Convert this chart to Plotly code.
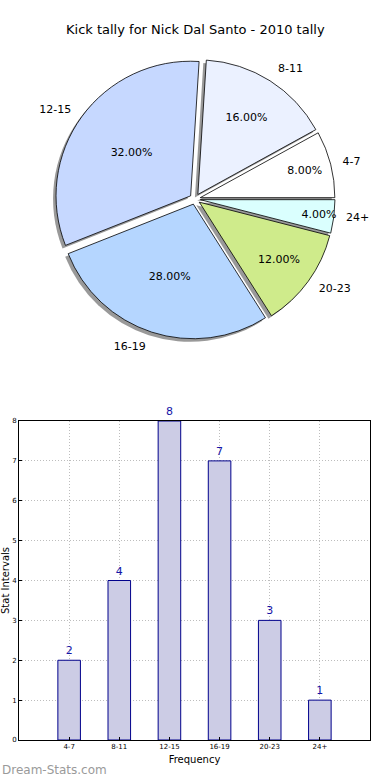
import plotly.graph_objects as go

categories = ["4-7", "8-11", "12-15", "16-19", "20-23", "24+"]
counts = [2, 4, 8, 7, 3, 1]
pie_colors = ["#FFFFFF", "#EBF1FF", "#C6D8FF", "#B5D6FF", "#CFEB8B", "#DAFFFE"]
title_text = "Kick tally for Nick Dal Santo - 2010 tally"
y_ticks = [0, 1, 2, 3, 4, 5, 6, 7, 8]

W, H = 390, 780
FONT = "DejaVu Sans"

def px_x(p):
    return p / W

def px_y(p):
    return 1 - p / H

cx, cy, half = 195, 199, 140
sh = 3
lab_extra = 9
pulls = [0.04] * 6
rot = 61.2

def dom(dx, dy, h):
    return dict(x=[px_x(cx - h + dx), px_x(cx + h + dx)],
                y=[px_y(cy + h + dy), px_y(cy - h + dy)])

fig = go.Figure()

# invisible pie carrying the outside labels (slightly larger radius)
fig.add_trace(go.Pie(
    labels=categories, values=counts, sort=False, direction="counterclockwise",
    rotation=rot, pull=pulls,
    marker=dict(colors=["rgba(0,0,0,0)"] * 6, line=dict(width=0)),
    texttemplate="%{label}", textposition="outside",
    textfont=dict(family=FONT, size=11, color="#000000"),
    domain=dom(0, 0, half + lab_extra),
    showlegend=False, hoverinfo="skip", automargin=False,
))

# shadow pie
fig.add_trace(go.Pie(
    labels=categories, values=counts, sort=False, direction="counterclockwise",
    rotation=rot, pull=pulls,
    marker=dict(colors=["rgba(0,0,0,0.4)"] * 6, line=dict(width=0)),
    textinfo="none",
    domain=dom(-sh, sh, half),
    showlegend=False, hoverinfo="skip", automargin=False,
))

# main pie
fig.add_trace(go.Pie(
    labels=categories, values=counts, sort=False, direction="counterclockwise",
    rotation=rot, pull=pulls,
    marker=dict(colors=pie_colors, line=dict(color="#000000", width=0.8)),
    texttemplate="%{percent:.2%}", textposition="inside",
    insidetextorientation="horizontal",
    textfont=dict(family=FONT, size=11, color="#000000"),
    domain=dom(0, 0, half),
    showlegend=False, automargin=False,
))

fig.add_trace(go.Bar(
    x=categories, y=counts, width=0.45,
    marker=dict(color="#CCCCE5", line=dict(color="#00008B", width=1)),
    text=[str(c) for c in counts], textposition="outside",
    textfont=dict(family=FONT, size=11, color="#1414A8"),
    cliponaxis=False, xaxis="x", yaxis="y", showlegend=False,
))

fig.update_layout(
    width=W, height=H,
    margin=dict(l=0, r=0, t=0, b=0),
    paper_bgcolor="white", plot_bgcolor="white",
    font=dict(family=FONT, color="#000000"),
    uniformtext=dict(minsize=11, mode="show"),
    xaxis=dict(
        domain=[px_x(19), px_x(370)], range=[-1, 6], anchor="y",
        showline=True, linecolor="#000000", linewidth=1, mirror=True,
        showgrid=True, gridcolor="#BDBDBD", griddash="1px,2px", gridwidth=1,
        ticks="inside", ticklen=3, tickcolor="#000000",
        tickfont=dict(size=7, family=FONT),
        title=dict(text="Frequency", font=dict(size=10, family=FONT), standoff=5),
        zeroline=False, fixedrange=True, automargin=False,
    ),
    yaxis=dict(
        domain=[px_y(740), px_y(421)], range=[0, 8], anchor="x",
        tickvals=y_ticks,
        showline=True, linecolor="#000000", linewidth=1, mirror=True,
        showgrid=True, gridcolor="#BDBDBD", griddash="1px,2px", gridwidth=1,
        ticks="inside", ticklen=3, tickcolor="#000000",
        tickfont=dict(size=7, family=FONT),
        title=dict(text="Stat Intervals", font=dict(size=10, family=FONT), standoff=4),
        zeroline=False, fixedrange=True, automargin=False,
    ),
    annotations=[
        dict(text=title_text, x=0.5, y=px_y(30), xref="paper", yref="paper",
             xanchor="center", yanchor="middle", showarrow=False,
             font=dict(size=13, family=FONT, color="#000000")),
        dict(text="Dream-Stats.com", x=0, y=px_y(770), xref="paper", yref="paper",
             xanchor="left", yanchor="middle", showarrow=False,
             font=dict(size=12, family=FONT, color="#9A9A9A")),
    ],
)

fig.write_html(
    "out.html",
    config={"displayModeBar": False},
    post_script="document.body.style.margin='0';document.body.style.overflow='hidden';",
)
